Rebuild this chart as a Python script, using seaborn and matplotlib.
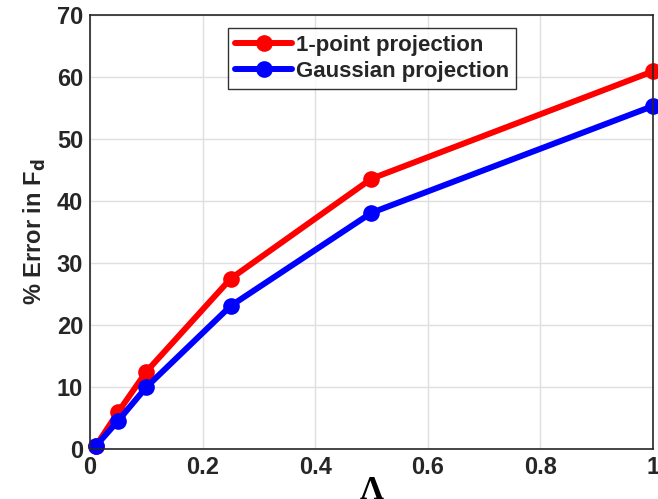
import matplotlib
matplotlib.use('Agg')
import matplotlib.pyplot as plt
import pandas as pd
import seaborn as sns

# Data
lam = [0.01, 0.05, 0.1, 0.25, 0.5, 1.0]
err_1point = [0.5, 6.0, 12.5, 27.5, 43.6, 60.9]
err_gauss = [0.5, 4.6, 10.0, 23.1, 38.1, 55.3]
series_names = ['1-point projection', 'Gaussian projection']

df = pd.concat([
    pd.DataFrame({'lam': lam, 'err': err_1point, 'method': series_names[0]}),
    pd.DataFrame({'lam': lam, 'err': err_gauss, 'method': series_names[1]}),
])

sns.set_style('whitegrid')
plt.rcParams['font.family'] = ['Liberation Sans', 'DejaVu Sans']
plt.rcParams['font.weight'] = 'bold'

fig = plt.figure(figsize=(6.58, 4.99), dpi=100)
ax = fig.add_axes([0.137, 0.10, 0.855, 0.87])

sns.lineplot(data=df, x='lam', y='err', hue='method', hue_order=series_names,
             palette=['#ff0000', '#0000ff'], marker='o', markersize=12,
             markeredgewidth=0, linewidth=4.3, ax=ax, clip_on=False)

ax.set_xlim(0, 1)
ax.set_ylim(0, 70)
ax.set_xticks([0, 0.2, 0.4, 0.6, 0.8, 1])
ax.set_xticklabels(['0', '0.2', '0.4', '0.6', '0.8', '1'])
ax.set_yticks(range(0, 71, 10))
ax.tick_params(labelsize=17, direction='in', length=5, width=1, color='#262626',
               pad=5)
for lab in ax.get_xticklabels() + ax.get_yticklabels():
    lab.set_fontweight('bold')
    lab.set_color('#262626')

ax.grid(True, color='#dfdfdf', linewidth=1)
for s in ax.spines.values():
    s.set_color('#262626')
    s.set_linewidth(1.2)

ax.set_xlabel('Λ', fontsize=24, fontweight='bold', labelpad=-3,
              family=['Liberation Serif', 'DejaVu Serif'], color='black')
ax.set_ylabel(r'% Error in F$_{\mathbf{d}}$', fontsize=17, fontweight='bold',
              color='#262626', labelpad=6)

leg = ax.legend(loc='upper left', bbox_to_anchor=(0.245, 0.97), fontsize=16,
                frameon=True, fancybox=False, edgecolor='black',
                handlelength=2.6, handletextpad=0.15, borderpad=0.3,
                labelspacing=0.25, borderaxespad=0)
leg.get_frame().set_linewidth(1)
for t in leg.get_texts():
    t.set_fontweight('bold')

fig.savefig('out.png', dpi=100)
